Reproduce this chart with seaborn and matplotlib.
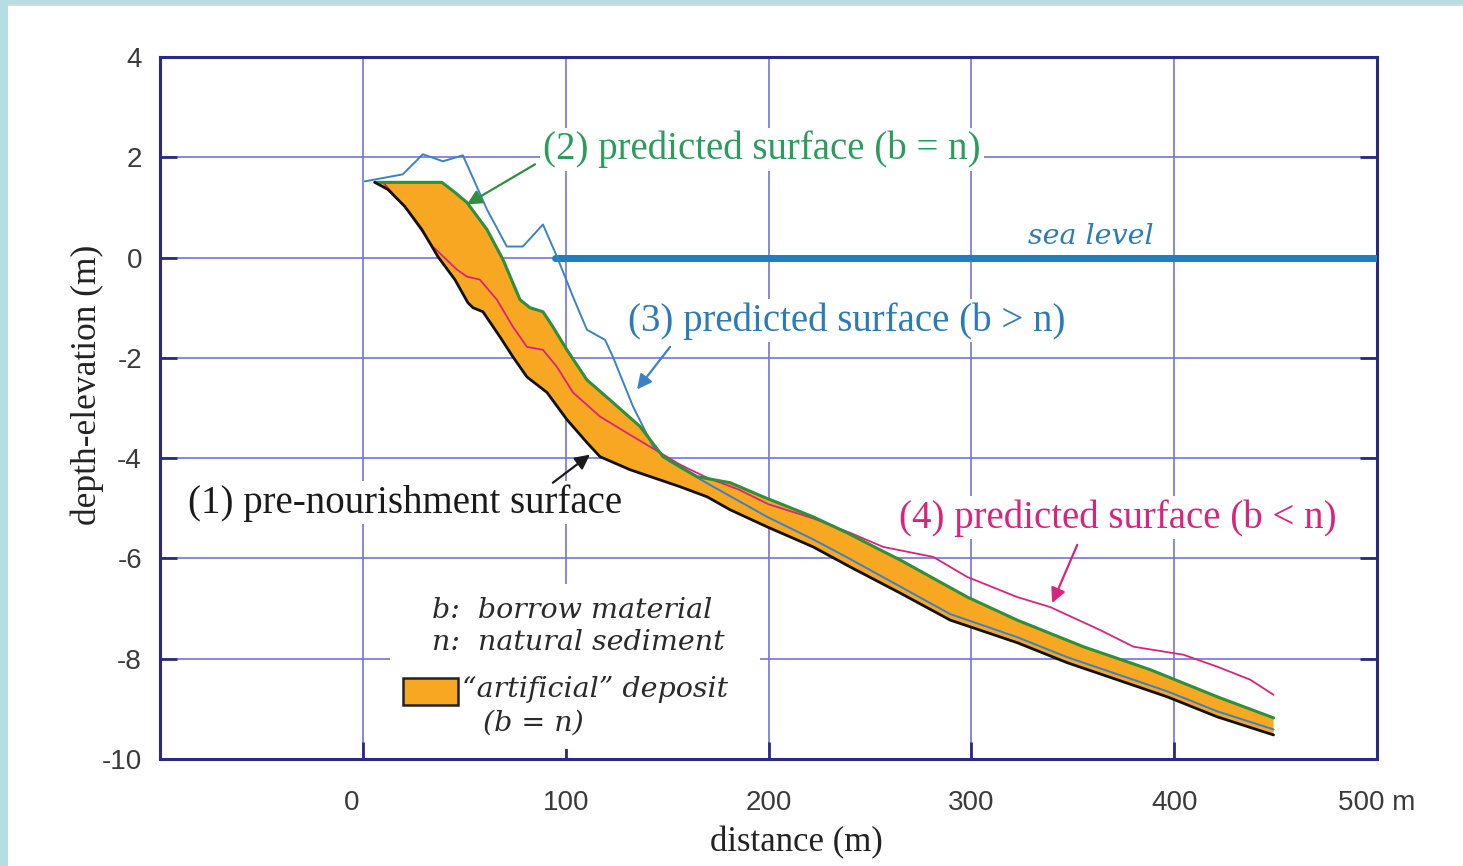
import numpy as np
import matplotlib
matplotlib.use("Agg")
import matplotlib.pyplot as plt
import matplotlib.transforms as mtransforms
from matplotlib.patches import Rectangle
import seaborn as sns

# ---------------- data ----------------
# (1) pre-nourishment surface
x_pre = [5.9, 12.3, 20.7, 29.1, 37.0, 45.4, 51.8, 54.3, 59.2, 67.6, 74.0, 80.9, 90.8,
         100.6, 110.5, 116.9, 131.7, 156.4, 169.7, 181.1, 199.3, 222.0, 240.3, 264.9,
         289.6, 322.6, 347.3, 372.0, 396.6, 421.3, 449.0]
y_pre = [1.50, 1.36, 1.02, 0.56, 0.02, -0.44, -0.90, -1.00, -1.08, -1.58, -1.98, -2.38, -2.69,
         -3.23, -3.69, -3.97, -4.23, -4.57, -4.77, -5.03, -5.37, -5.77, -6.17, -6.69,
         -7.23, -7.68, -8.08, -8.42, -8.76, -9.16, -9.52]

# (2) predicted surface (b = n)
x_eq = [5.9, 39.0, 45.4, 51.3, 61.2, 69.1, 77.5, 82.4, 88.8, 93.7, 100.6, 110.5, 123.3,
        136.7, 148.0, 164.8, 181.1, 197.3, 222.0, 238.8, 255.1, 264.9, 298.0, 322.6,
        355.2, 388.3, 421.3, 449.0]
y_eq = [1.50, 1.50, 1.30, 1.10, 0.56, -0.04, -0.84, -1.00, -1.08, -1.38, -1.84, -2.44, -2.89,
        -3.37, -3.97, -4.37, -4.49, -4.77, -5.17, -5.49, -5.83, -6.03, -6.77, -7.23,
        -7.76, -8.22, -8.76, -9.18]

# (3) predicted surface (b > n)
x_gt = [1.0, 19.7, 29.6, 39.5, 49.3, 61.2, 71.0, 78.9, 88.8, 95.7, 103.6, 110.5, 119.4,
        123.3, 133.2, 143.1, 151.5, 169.7, 199.3, 222.0, 238.8, 264.9, 289.6, 322.6,
        347.3, 372.0, 396.6, 421.3, 449.0]
y_gt = [1.52, 1.66, 2.06, 1.92, 2.04, 0.96, 0.22, 0.22, 0.66, 0.02, -0.78, -1.44, -1.64,
        -1.98, -2.97, -3.77, -4.07, -4.50, -5.17, -5.62, -5.98, -6.56, -7.11, -7.57,
        -7.97, -8.31, -8.65, -9.05, -9.41]

# (4) predicted surface (b < n)
x_lt = [9.9, 21.7, 34.5, 46.4, 51.3, 57.7, 66.1, 74.0, 80.9, 88.8, 95.7, 103.6, 116.9,
        133.2, 146.5, 156.4, 169.7, 185.0, 200.0, 222.0, 240.3, 256.5, 281.2, 298.0,
        322.6, 338.9, 363.6, 379.9, 404.5, 421.3, 437.6, 449.0]
y_lt = [1.50, 0.96, 0.22, -0.24, -0.38, -0.44, -0.84, -1.38, -1.78, -1.84, -2.18, -2.69, -3.17,
        -3.57, -3.89, -4.13, -4.39, -4.62, -4.92, -5.20, -5.49, -5.77, -5.97, -6.37,
        -6.77, -6.97, -7.43, -7.76, -7.92, -8.16, -8.42, -8.72]

# sea level
x_sea = [94.7, 500.0]
y_sea = [0.0, 0.0]

x_ticks = [0, 100, 200, 300, 400, 500]
x_ticklabels = ["0", "100", "200", "300", "400", "500 m"]
y_ticks = [-10, -8, -6, -4, -2, 0, 2, 4]

# ---------------- styling ----------------
C_ORANGE = "#f7a722"
C_GREEN = "#2f8f3c"
C_GREEN_TXT = "#2b9c5e"
C_BLUE = "#3b82c4"
C_BLUE_TXT = "#2b7bb9"
C_SEA = "#1b7fc2"
C_PINK = "#d8247c"
C_GRID = "#7373da"
C_SPINE = "#2a2a80"
SERIF = ["Liberation Serif", "DejaVu Serif"]
ITAL = ["DejaVu Serif"]

sns.set_theme(style="white")
plt.rcParams["font.family"] = ["Liberation Sans", "DejaVu Sans"]
plt.rcParams["axes.unicode_minus"] = False

fig = plt.figure(figsize=(14.63, 8.66), dpi=100)
fig.patch.set_facecolor("white")
# light-blue frame on the left and top of the picture
fig.patches.append(Rectangle((0, 0), 8 / 1463, 1, transform=fig.transFigure,
                             facecolor="#b5dde2", edgecolor="none", zorder=-5))
fig.patches.append(Rectangle((0, 1 - 4 / 866), 1, 4 / 866, transform=fig.transFigure,
                             facecolor="#b5dde2", edgecolor="none", zorder=-5))
fig.patches.append(Rectangle((8 / 1463, 1 - 6 / 866), 1, 2 / 866, transform=fig.transFigure,
                             facecolor="#d6dadc", edgecolor="none", zorder=-5))

ax = fig.add_axes([160 / 1463, 1 - 759 / 866, (1377 - 160) / 1463, (759 - 57) / 866])
ax.set_facecolor("white")

# artificial deposit (between pre-nourishment and b = n surface)
ax.fill(np.r_[x_eq, x_pre[::-1]], np.r_[y_eq, y_pre[::-1]],
        facecolor=C_ORANGE, edgecolor="none", zorder=2)

sns.lineplot(x=x_sea, y=y_sea, ax=ax, color=C_SEA, linewidth=5, sort=False,
             estimator=None, zorder=3)
sns.lineplot(x=x_gt, y=y_gt, ax=ax, color=C_BLUE, linewidth=1.4, sort=False,
             estimator=None, zorder=4)
sns.lineplot(x=x_lt, y=y_lt, ax=ax, color=C_PINK, linewidth=1.3, sort=False,
             estimator=None, zorder=4)
sns.lineplot(x=x_eq, y=y_eq, ax=ax, color=C_GREEN, linewidth=2.2, sort=False,
             estimator=None, zorder=5)
sns.lineplot(x=x_pre, y=y_pre, ax=ax, color="#111111", linewidth=2.0, sort=False,
             estimator=None, zorder=5)

ax.set_xlim(-100, 500)
ax.set_ylim(-10, 4)
ax.set_xticks(x_ticks)
ax.set_xticklabels(x_ticklabels)
ax.set_yticks(y_ticks)
ax.grid(True, color=C_GRID, linewidth=1.2, zorder=0)
ax.set_axisbelow(True)
for s in ax.spines.values():
    s.set_color(C_SPINE)
    s.set_linewidth(2.2)
    s.set_visible(True)
ax.tick_params(axis="both", direction="in", length=12, width=2, color=C_SPINE,
               labelsize=20, labelcolor="#3a3a3a", left=True, right=True, bottom=True)
ax.tick_params(axis="x", pad=22)
ax.tick_params(axis="y", pad=13)
# the "0" label sits slightly left of its grid line
lab0 = ax.get_xticklabels()[0]
lab0.set_transform(lab0.get_transform() + mtransforms.ScaledTranslation(-11 / 100, 0, fig.dpi_scale_trans))

ax.set_xlabel("distance (m)", fontsize=25, family=SERIF, color="#222222")
ax.set_ylabel("depth-elevation (m)", fontsize=25.5, family=SERIF, color="#222222")
ax.xaxis.set_label_coords(0.523, -0.096)
ax.yaxis.set_label_coords(-0.046, 0.533)

box = dict(facecolor="white", edgecolor="none", pad=2)

ax.text(196.8, 2.16, "(2) predicted surface (b = n)", color=C_GREEN_TXT, fontsize=28,
        family=SERIF, ha="center", va="center", bbox=box, zorder=6)
ax.text(238.8, -1.26, "(3) predicted surface (b > n)", color=C_BLUE_TXT, fontsize=28,
        family=SERIF, ha="center", va="center", bbox=box, zorder=6)
ax.text(372.0, -5.19, "(4) predicted surface (b < n)", color=C_PINK, fontsize=28,
        family=SERIF, ha="center", va="center", bbox=box, zorder=6)
ax.text(21.0, -4.89, "(1) pre-nourishment surface", color="#1a1a1a", fontsize=28,
        family=SERIF, ha="center", va="center", bbox=box, zorder=6)
ax.text(358.7, 0.42, "sea level", color=C_BLUE_TXT, fontsize=20.5, family=ITAL,
        style="italic", ha="center", va="center", zorder=6)

arrow = lambda c: dict(arrowstyle="-|>", color=c, lw=1.6, mutation_scale=22,
                       shrinkA=0, shrinkB=0)
ax.annotate("", xy=(51.3, 1.06), xytext=(84.9, 1.86), arrowprops=arrow(C_GREEN), zorder=7)
ax.annotate("", xy=(135.2, -2.63), xytext=(151.5, -1.78), arrowprops=arrow(C_BLUE), zorder=7)
ax.annotate("", xy=(339.9, -6.89), xytext=(352.2, -5.73), arrowprops=arrow(C_PINK), zorder=7)
ax.annotate("", xy=(112.0, -3.93), xytext=(93.7, -4.49), arrowprops=arrow("#1a1a1a"), zorder=7)

# key box
ax.add_patch(Rectangle((13.3, -9.8), 182.6, 3.3, facecolor="white", edgecolor="none", zorder=1))
ax.text(34.0, -7.03, "b:  borrow material", fontsize=20.5, family=ITAL,
        style="italic", color="#2a2a2a", ha="left", va="center", zorder=6)
ax.text(34.0, -7.68, "n:  natural sediment", fontsize=20.5, family=ITAL,
        style="italic", color="#2a2a2a", ha="left", va="center", zorder=6)
ax.add_patch(Rectangle((19.7, -8.92), 27.2, 0.54, facecolor=C_ORANGE, edgecolor="#222222",
                       linewidth=1.8, zorder=6))
ax.text(48.8, -8.62, "\u201cartificial\u201d deposit", fontsize=20.5, family=ITAL,
        style="italic", color="#2a2a2a", ha="left", va="center", zorder=6)
ax.text(59.2, -9.28, "(b = n)", fontsize=20.5, family=ITAL,
        style="italic", color="#2a2a2a", ha="left", va="center", zorder=6)

fig.savefig("out.png", dpi=100, facecolor=fig.get_facecolor())
